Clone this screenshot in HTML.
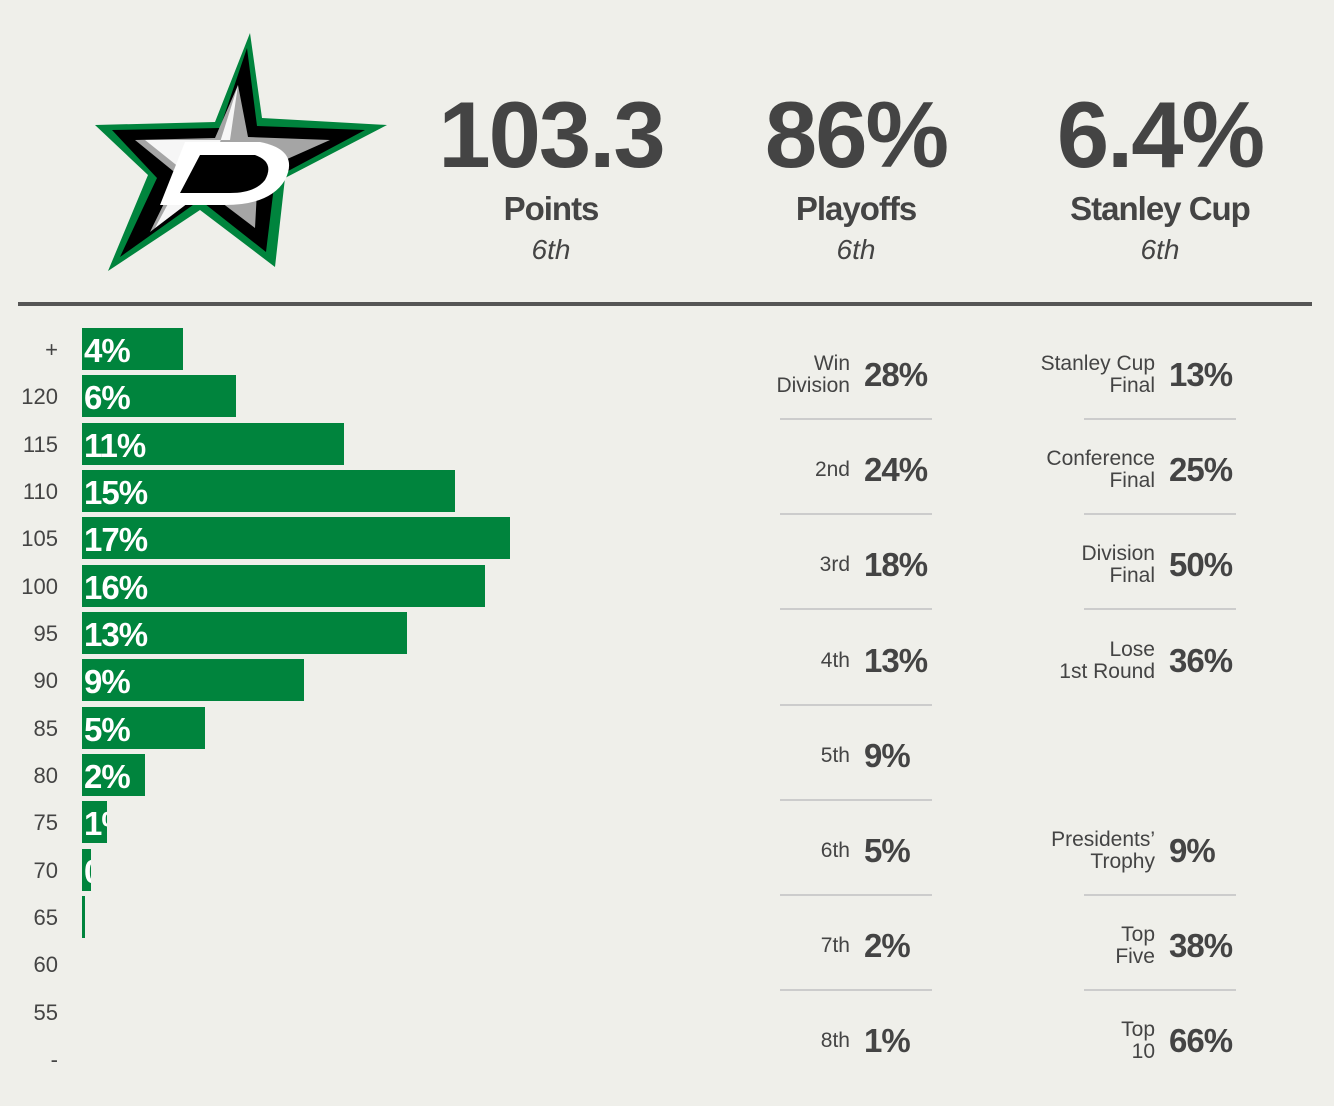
<!DOCTYPE html>
<html><head><meta charset="utf-8"><style>
body{margin:0;width:1334px;height:1106px;background:#efefea;font-family:"Liberation Sans",sans-serif;color:#444;overflow:hidden;position:relative}
.hd{position:absolute;text-align:center;width:340px}
.big{font-size:94px;font-weight:bold;letter-spacing:-2px;line-height:1}
.lbl{font-size:33px;font-weight:bold;letter-spacing:-1px;margin-top:8px}
.rk{font-size:28px;font-style:italic;margin-top:6px}
.row{position:absolute;display:flex;align-items:center}
.rl{text-align:right;font-size:21px;line-height:22px}
.rv{font-weight:bold;font-size:33px;letter-spacing:-1px;margin-left:14px}
.sep{position:absolute;height:2px;background:#ccc}
</style></head><body>
<svg style="position:absolute;left:0;top:0" width="400" height="290">
<polygon points="250,33 262,118 387,125 285,178 275,267 200,210 108,271 148,175 95,125 215,122" fill="#00843d"/>
<polygon points="247,48 257,126 365,130 275,178 266,252 200,200 120,257 157,178 112,130 220,128" fill="#000"/>
<polygon points="238,85 248,137 330,140 258,172 255,228 205,190 150,232 178,175 135,140 215,138" fill="#a5a5a5"/>
<polygon points="238,85 230,140 145,140 185,172 155,228 205,190" fill="#fff" opacity="0.9"/>
<path d="M185,142 L260,142 Q300,150 285,180 Q270,205 225,205 L160,205 Z" fill="#fff"/>
<path d="M200,155 L255,155 Q275,162 265,180 Q255,193 230,193 L180,193 Z" fill="#000"/>
</svg>
<div class="hd" style="left:381px;top:88px"><div class="big">103.3</div><div class="lbl">Points</div><div class="rk">6th</div></div>
<div class="hd" style="left:686px;top:88px"><div class="big">86%</div><div class="lbl">Playoffs</div><div class="rk">6th</div></div>
<div class="hd" style="left:990px;top:88px"><div class="big">6.4%</div><div class="lbl">Stanley Cup</div><div class="rk">6th</div></div>
<div style="position:absolute;left:18px;top:302px;width:1294px;height:4px;background:#555"></div>
<div id="chart"></div>
<div id="tables"></div>
<script>
const categories=["+","120","115","110","105","100","95","90","85","80","75","70","65","60","55","-"];
const values=[4.0,6.1,10.4,14.8,17.0,16.0,12.9,8.8,4.9,2.5,1.0,0.35,0.1,0,0,0];
const valueLabels=["4%","6%","11%","15%","17%","16%","13%","9%","5%","2%","1%","0%","0%","","",""];
const x=v=>v*25.2, y=i=>328+i*47.33;
const c=document.getElementById('chart');
categories.forEach((cat,i)=>{
 const t=document.createElement('div');
 
 
 t.style.cssText=`position:absolute;right:${1334-58}px;top:${y(i)+9}px;font-size:22px;text-align:right`;
 t.textContent=cat;c.appendChild(t);
 if(values[i]>0){
  const b=document.createElement('div');
  
  
  b.style.cssText=`position:absolute;left:82px;top:${y(i)}px;width:${x(values[i])}px;height:42px;background:#00843d;overflow:hidden;color:#fff;font-weight:bold;font-size:33px;line-height:46px;letter-spacing:-1px;white-space:nowrap;padding-left:2px;box-sizing:border-box`;
  b.textContent=valueLabels[i];c.appendChild(b);
 }
});
const leftLabels=["Win<br>Division","2nd","3rd","4th","5th","6th","7th","8th"];
const leftValues=["28%","24%","18%","13%","9%","5%","2%","1%"];
const rightLabels=["Stanley Cup<br>Final","Conference<br>Final","Division<br>Final","Lose<br>1st Round","","Presidents’<br>Trophy","Top<br>Five","Top<br>10"];
const rightValues=["13%","25%","50%","36%","","9%","38%","66%"];
const T=document.getElementById('tables');
function col(labels,vals,labelRight,sepX){
 labels.forEach((l,i)=>{
  const cy=375+i*95.2;
  if(vals[i]){
   const r=document.createElement('div');
   
   
   r.className='row';
   r.style.cssText=`left:${labelRight-300}px;top:${cy-25}px;height:50px`;
   r.innerHTML=`<div class="rl" style="width:300px">${l}</div><div class="rv">${vals[i]}</div>`;
   T.appendChild(r);
  }
  if(i<7 && vals[i] && vals[i+1]){
   const s=document.createElement('div');
   
   
   s.className='sep';s.style.cssText=`left:${sepX}px;width:152px;top:${cy+43}px`;
   T.appendChild(s);
  }
 });
}
col(leftLabels,leftValues,850,780);
col(rightLabels,rightValues,1155,1084);
</script>
</body></html>
